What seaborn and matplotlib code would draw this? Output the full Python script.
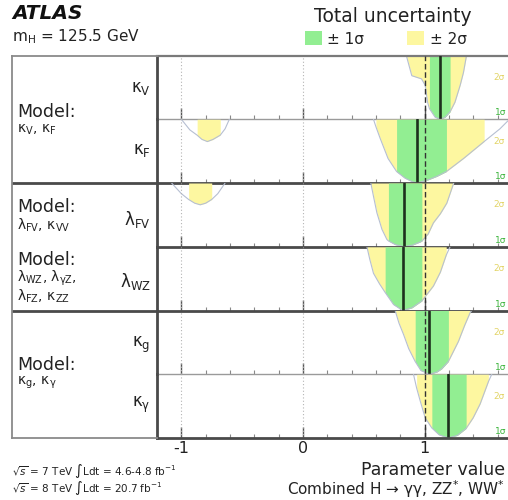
import numpy as np
import matplotlib
matplotlib.use("Agg")
import matplotlib.pyplot as plt
from matplotlib.patches import Rectangle
from matplotlib.ticker import FixedLocator, MultipleLocator
import seaborn as sns

# ---------------------------------------------------------------------------
# Profile-likelihood scans (-2 ln Lambda) per coupling parameter,
# best-fit values and the 68% / 95% CL intervals.
# ---------------------------------------------------------------------------
KV_X = [0.85, 0.895, 0.975, 1.005, 1.025, 1.04, 1.087, 1.13, 1.169, 1.21, 1.25, 1.293, 1.32, 1.345]
KV_Y = [6.0, 4.1, 3.8, 3.2, 1.6, 1.0, 0.19, 0.0, 0.19, 0.7, 1.6, 3.2, 4.4, 6.0]
KV_BEST = 1.13
KV_1S = (1.04, 1.21)
KV_2S = (0.85, 1.345)

KF_X = [0.58, 0.60, 0.635, 0.70, 0.77, 0.84, 0.90, 0.94, 1.03, 1.10, 1.18, 1.32, 1.49, 1.62, 1.69]
KF_Y = [6.0, 5.3, 4.2, 2.3, 1.08, 0.45, 0.12, 0.0, 0.3, 0.62, 1.08, 2.3, 3.9, 5.1, 5.9]
KF_BEST = 0.94
KF_1S = (0.77, 1.18)
KF_2S = (0.60, 1.49)
KF_NEG_X = [-1.0, -0.93, -0.87, -0.83, -0.786, -0.74, -0.68, -0.64, -0.605]
KF_NEG_Y = [6.0, 5.0, 4.5, 4.1, 3.9, 4.1, 4.5, 5.1, 6.0]
KF_NEG_2S = (-0.87, -0.68)

LFV_X = [0.558, 0.58, 0.608, 0.65, 0.69, 0.703, 0.76, 0.83, 0.90, 0.964, 0.978, 1.03, 1.073, 1.13, 1.183, 1.24]
LFV_Y = [6.0, 4.75, 3.2, 1.63, 0.69, 0.55, 0.2, 0.0, 0.15, 0.45, 0.53, 1.2, 2.25, 3.1, 4.1, 6.0]
LFV_BEST = 0.83
LFV_1S = (0.703, 0.978)
LFV_2S = (0.558, 1.24)
LFV_NEG_X = [-1.08, -1.0, -0.94, -0.89, -0.845, -0.80, -0.75, -0.70, -0.64]
LFV_NEG_Y = [6.0, 5.0, 4.45, 4.1, 3.95, 4.1, 4.45, 5.0, 6.0]
LFV_NEG_2S = (-0.94, -0.75)

LWZ_X = [0.526, 0.55, 0.58, 0.63, 0.676, 0.745, 0.82, 0.896, 0.978, 1.073, 1.13, 1.178, 1.21]
LWZ_Y = [6.0, 4.8, 3.5, 2.5, 1.7, 0.56, 0.0, 0.25, 0.9, 2.3, 3.6, 5.2, 6.0]
LWZ_BEST = 0.82
LWZ_1S = (0.676, 0.978)
LWZ_2S = (0.526, 1.178)

KG_X = [0.758, 0.79, 0.827, 0.87, 0.923, 0.97, 1.04, 1.10, 1.14, 1.196, 1.279, 1.33, 1.375, 1.389]
KG_Y = [6.0, 4.8, 3.75, 2.4, 1.2, 0.35, 0.0, 0.2, 0.5, 1.2, 3.1, 4.6, 5.8, 6.0]
KG_BEST = 1.04
KG_1S = (0.923, 1.196)
KG_2S = (0.758, 1.375)

KGAM_X = [0.909, 0.935, 0.964, 1.005, 1.06, 1.12, 1.196, 1.27, 1.342, 1.40, 1.457, 1.525, 1.553]
KGAM_Y = [6.0, 4.7, 3.5, 1.9, 0.94, 0.3, 0.0, 0.25, 0.9, 1.9, 3.2, 5.3, 6.0]
KGAM_BEST = 1.196
KGAM_1S = (1.06, 1.342)
KGAM_2S = (0.935, 1.525)

ROW_LABELS = [r"κ$_{\mathregular{V}}$", r"κ$_{\mathregular{F}}$", r"λ$_{\mathregular{FV}}$",
              r"λ$_{\mathregular{WZ}}$", r"κ$_{\mathregular{g}}$", r"κ$_{\mathregular{γ}}$"]
MODEL_PARAMS = [
    [r"κ$_{\mathregular{V}}$, κ$_{\mathregular{F}}$"],
    [r"λ$_{\mathregular{FV}}$, κ$_{\mathregular{VV}}$"],
    [r"λ$_{\mathregular{WZ}}$, λ$_{\mathregular{γZ}}$,", r"λ$_{\mathregular{FZ}}$, κ$_{\mathregular{ZZ}}$"],
    [r"κ$_{\mathregular{g}}$, κ$_{\mathregular{γ}}$"],
]
X_TICKS = [-1, 0, 1]
X_TICK_LABELS = ["-1", "0", "1"]

# ---------------------------------------------------------------------------
sns.set_theme(style="white")
plt.rcParams["font.family"] = ["DejaVu Sans"]
plt.rcParams["axes.unicode_minus"] = False

GREEN = "#92ee92"
YELLOW = "#fdf7a0"
CURVE = "#b6bfd2"
FRAME = "#4a4a4a"
THIN = "#9a9a9a"
YMAX = 6.0

W, H = 508, 500
fig = plt.figure(figsize=(W / 100, H / 100), dpi=100)
fig.patch.set_facecolor("white")


def fx(px):
    return px / W


def fy(py):
    return 1 - py / H


TOP, ROW_H = 55.5, 63.75
PLOT_L, PLOT_R = 157, 534
XMIN, XMAX = -1.2, 1.9

rows = [
    dict(x=KV_X, y=KV_Y, best=KV_BEST, s1=KV_1S, s2=KV_2S, extra=None, thick=False),
    dict(x=KF_X, y=KF_Y, best=KF_BEST, s1=KF_1S, s2=KF_2S,
         extra=(KF_NEG_X, KF_NEG_Y, KF_NEG_2S), thick=True),
    dict(x=LFV_X, y=LFV_Y, best=LFV_BEST, s1=LFV_1S, s2=LFV_2S,
         extra=(LFV_NEG_X, LFV_NEG_Y, LFV_NEG_2S), thick=True),
    dict(x=LWZ_X, y=LWZ_Y, best=LWZ_BEST, s1=LWZ_1S, s2=LWZ_2S, extra=None, thick=True),
    dict(x=KG_X, y=KG_Y, best=KG_BEST, s1=KG_1S, s2=KG_2S, extra=None, thick=False),
    dict(x=KGAM_X, y=KGAM_Y, best=KGAM_BEST, s1=KGAM_1S, s2=KGAM_2S, extra=None, thick=True),
]


def band(ax, xs, ys, interval, color):
    xs = np.asarray(xs, float)
    ys = np.asarray(ys, float)
    lo, hi = interval
    m = (xs >= lo - 1e-9) & (xs <= hi + 1e-9)
    ax.fill_between(xs[m], ys[m], YMAX, color=color, lw=0, zorder=1)


def scan(ax, xs, ys):
    sns.lineplot(x=xs, y=ys, ax=ax, sort=False, estimator=None, color=CURVE,
                 lw=0.8, legend=False, zorder=2)


for i, r in enumerate(rows):
    top = TOP + i * ROW_H
    ax = fig.add_axes([fx(PLOT_L), fy(top + ROW_H), fx(PLOT_R) - fx(PLOT_L), ROW_H / H])
    ax.set_xlim(XMIN, XMAX)
    ax.set_ylim(0, YMAX)
    ax.set_facecolor("none")

    band(ax, r["x"], r["y"], r["s2"], YELLOW)
    band(ax, r["x"], r["y"], r["s1"], GREEN)
    scan(ax, r["x"], r["y"])
    if r["extra"] is not None:
        ex, ey, es = r["extra"]
        band(ax, ex, ey, es, YELLOW)
        scan(ax, ex, ey)

    ax.axvline(-1, color="#b4b4b4", ls=(0, (1, 2)), lw=0.8, zorder=3)
    ax.axvline(0, color="#b4b4b4", ls=(0, (1, 2)), lw=0.8, zorder=3)
    ax.axvline(1, color="#333333", ls=(0, (4, 2)), lw=1.0, zorder=4)
    ax.axvline(r["best"], color="#1e301e", lw=1.9, zorder=5)

    # right-edge significance markers, kept just inside the canvas
    ax.text(1.565, 3.95, "2σ", color="#e2d466", fontsize=6.5, ha="left", va="center")
    ax.text(1.575, 0.6, "1σ", color="#3cb43c", fontsize=6.5, ha="left", va="center")

    ax.set_ylabel("")
    ax.set_xlabel("")
    ax.set_yticks([])
    ax.xaxis.set_major_locator(FixedLocator(X_TICKS))
    ax.xaxis.set_minor_locator(MultipleLocator(0.2))
    ax.tick_params(axis="x", which="major", direction="in", length=8, width=1.0,
                   color="#555555", bottom=True, top=False, labelsize=11.5, pad=2.5,
                   labelcolor="#222222")
    ax.tick_params(axis="x", which="minor", direction="in", length=3, width=0.8,
                   color="#888888", bottom=True, top=False)
    if i == len(rows) - 1:
        ax.set_xticklabels(X_TICK_LABELS)
    else:
        ax.tick_params(axis="x", labelbottom=False)

    ax.spines["right"].set_visible(False)
    ax.spines["left"].set_color(FRAME)
    ax.spines["left"].set_linewidth(2.0)
    if i == 0:
        ax.spines["top"].set_color("#7a7a7a")
        ax.spines["top"].set_linewidth(1.6)
    else:
        ax.spines["top"].set_visible(False)
    if r["thick"]:
        ax.spines["bottom"].set_color(FRAME)
        ax.spines["bottom"].set_linewidth(2.0)
    else:
        ax.spines["bottom"].set_color(THIN)
        ax.spines["bottom"].set_linewidth(1.0)
    ax.spines["bottom"].set_zorder(6)

# left-hand model/parameter panel
lab = fig.add_axes([fx(12), fy(438), fx(157) - fx(12), (438 - TOP) / H])
lab.set_xlim(0, 1)
lab.set_ylim(6, 0)
lab.set_xticks([])
lab.set_yticks([])
lab.set_facecolor("none")
for s in ("top", "left", "bottom"):
    lab.spines[s].set_color("#8a8a8a")
    lab.spines[s].set_linewidth(1.3)
lab.spines["right"].set_visible(False)
lab.axhline(2, color=FRAME, lw=2.0)
lab.axhline(4, color=FRAME, lw=2.0)

row_label_y = [0.51, 1.48, 2.58, 3.55, 4.54, 5.48]
for lbl, yy in zip(ROW_LABELS, row_label_y):
    lab.text(0.955, yy, lbl, ha="right", va="center", fontsize=12, color="#222222")

model_y = [0.89, 2.38, 3.21, 4.86]
for params, yy in zip(MODEL_PARAMS, model_y):
    lab.text(0.035, yy, "Model:", ha="left", va="center", fontsize=12.5, color="#222222")
    for k, p in enumerate(params):
        lab.text(0.035, yy + 0.28 + k * 0.29, p, ha="left", va="center", fontsize=10,
                 color="#222222")

# header
fig.text(fx(12), fy(13.5), "ATLAS", fontsize=14.5, fontweight="bold", fontstyle="italic",
         ha="left", va="center", color="#111111")
fig.text(fx(12), fy(37), r"m$_{\mathregular{H}}$ = 125.5 GeV", fontsize=11, ha="left",
         va="center", color="#222222")
fig.text(fx(393), fy(16), "Total uncertainty", fontsize=13.5, ha="center", va="center",
         color="#222222")
fig.add_artist(Rectangle((fx(305), fy(45)), fx(17), 14 / H, transform=fig.transFigure,
                         facecolor=GREEN, edgecolor="none"))
fig.text(fx(327), fy(39), "± 1σ", fontsize=11, ha="left", va="center", color="#222222")
fig.add_artist(Rectangle((fx(407), fy(45)), fx(17), 14 / H, transform=fig.transFigure,
                         facecolor=YELLOW, edgecolor="none"))
fig.text(fx(430), fy(39), "± 2σ", fontsize=11, ha="left", va="center", color="#222222")

# footer
fig.text(fx(505), fy(470), "Parameter value", fontsize=12.5, ha="right", va="center",
         color="#222222")
fig.text(fx(505), fy(489.5), r"Combined H → γγ, ZZ$^{*}$, WW$^{*}$", fontsize=11,
         ha="right", va="center", color="#222222")
fig.text(fx(12), fy(471), r"$\sqrt{s}$ = 7 TeV $\int$Ldt = 4.6-4.8 fb$^{-1}$", fontsize=7.5,
         ha="left", va="center", color="#222222")
fig.text(fx(12), fy(488), r"$\sqrt{s}$ = 8 TeV $\int$Ldt = 20.7 fb$^{-1}$", fontsize=7.5,
         ha="left", va="center", color="#222222")

fig.savefig("out.png", dpi=100, facecolor="white")
